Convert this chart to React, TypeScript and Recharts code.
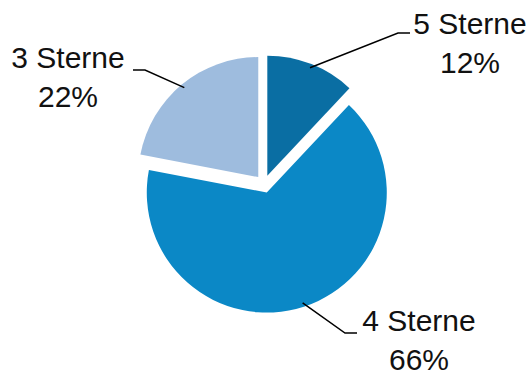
import { PieChart, Pie, Cell, Sector } from 'recharts'

const names = ['5 Sterne', '4 Sterne', '3 Sterne']
const values = [12, 66, 22]
const colors = ['#0a6ea3', '#0b88c6', '#9ebcde']

const data = names.map((name, i) => ({ name, value: values[i] }))

// label layout, offsets from the pie centre: elbow, end of leader, text anchor
const labelLayout: Record<string, { elbow: [number, number]; end: [number, number]; text: [number, number] }> = {
  '5 Sterne': { elbow: [134, -151], end: [146, -151], text: [206, -150] },
  '4 Sterne': { elbow: [81, 149], end: [93, 149], text: [155, 147] },
  '3 Sterne': { elbow: [-119, -114], end: [-131, -114], text: [-196, -116] },
}

const RADIAN = Math.PI / 180
const EXPLODE = 9
const FONT = '"Liberation Sans", Arial, sans-serif'

const polar = (cx: number, cy: number, r: number, angle: number) => ({
  x: cx + r * Math.cos(-angle * RADIAN),
  y: cy + r * Math.sin(-angle * RADIAN),
})

function ExplodedSector(props: any) {
  const o = polar(0, 0, EXPLODE, props.midAngle)
  return <Sector {...props} cx={props.cx + o.x} cy={props.cy + o.y} />
}

function renderLabel(props: any) {
  const { cx, cy, midAngle, outerRadius, name, percent } = props
  const lay = labelLayout[name]
  if (!lay) return null
  const start = polar(cx, cy, outerRadius + EXPLODE - 4, midAngle)
  const pts = `${start.x},${start.y} ${cx + lay.elbow[0]},${cy + lay.elbow[1]} ${cx + lay.end[0]},${cy + lay.end[1]}`
  const tx = cx + lay.text[0]
  const ty = cy + lay.text[1]
  return (
    <g>
      <polyline points={pts} fill="none" stroke="#000" strokeWidth={1.5} />
      <text x={tx} y={ty} textAnchor="middle" fill="#111" fontSize={30} fontFamily={FONT}>
        {name}
      </text>
      <text x={tx} y={ty + 39} textAnchor="middle" fill="#111" fontSize={30} fontFamily={FONT}>
        {`${Math.round(percent * 100)}%`}
      </text>
    </g>
  )
}

export default function App() {
  return (
    <div style={{ position: 'absolute', left: 0, top: 0, width: 531, height: 376, background: '#fff' }}>
      <PieChart width={531} height={376} margin={{ top: 0, right: 0, bottom: 0, left: 0 }}>
        <Pie
          data={data}
          dataKey="value"
          nameKey="name"
          cx={264}
          cy={184}
          outerRadius={120}
          startAngle={90}
          endAngle={-270}
          stroke="none"
          shape={ExplodedSector}
          label={renderLabel}
          labelLine={false}
          isAnimationActive={false}
        >
          {data.map((d, i) => (
            <Cell key={d.name} fill={colors[i]} />
          ))}
        </Pie>
      </PieChart>
    </div>
  )
}
